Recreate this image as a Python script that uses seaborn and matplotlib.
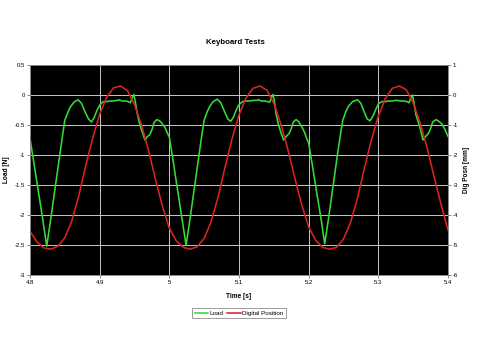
import matplotlib
matplotlib.use("Agg")
import matplotlib.pyplot as plt
import seaborn as sns

# Data
time_load = [
    4.800, 4.806, 4.812, 4.818, 4.824, 4.830, 4.836, 4.842, 4.847, 4.850,
    4.854, 4.858, 4.863, 4.869, 4.874, 4.879, 4.884, 4.888, 4.892, 4.896,
    4.900, 4.905, 4.910, 4.915, 4.920, 4.925, 4.928, 4.932, 4.937, 4.941,
    4.944, 4.947, 4.949, 4.951, 4.953, 4.956, 4.960, 4.965, 4.968, 4.972,
    4.975, 4.978, 4.982, 4.986, 4.990, 4.994, 4.997,
    5.000, 5.006, 5.012, 5.018, 5.024, 5.030, 5.036, 5.042, 5.047, 5.050,
    5.054, 5.058, 5.063, 5.069, 5.074, 5.079, 5.084, 5.088, 5.092, 5.096,
    5.100, 5.105, 5.110, 5.115, 5.120, 5.125, 5.128, 5.132, 5.137, 5.141,
    5.144, 5.147, 5.149, 5.151, 5.153, 5.156, 5.160, 5.164, 5.168, 5.172,
    5.175, 5.178, 5.182, 5.186, 5.190, 5.194, 5.197,
    5.200, 5.206, 5.212, 5.218, 5.223, 5.229, 5.235, 5.241, 5.246, 5.249,
    5.253, 5.257, 5.263, 5.270, 5.275, 5.280, 5.284, 5.288, 5.292, 5.296,
    5.300, 5.305, 5.310, 5.315, 5.320, 5.325, 5.328, 5.332, 5.337, 5.341,
    5.344, 5.347, 5.349, 5.351, 5.354, 5.357, 5.360, 5.364, 5.368, 5.372,
    5.375, 5.378, 5.383, 5.387, 5.391, 5.395, 5.400,
]
load = [
    -0.72, -1.16, -1.61, -2.05, -2.52, -2.05, -1.55, -1.06, -0.65, -0.42,
    -0.30, -0.20, -0.12, -0.08, -0.14, -0.28, -0.40, -0.45, -0.38, -0.26,
    -0.17, -0.11, -0.11, -0.10, -0.10, -0.09, -0.08, -0.10, -0.10, -0.11,
    -0.13, -0.04, 0.01, -0.10, -0.25, -0.42, -0.58, -0.75, -0.70, -0.66,
    -0.58, -0.46, -0.41, -0.43, -0.48, -0.55, -0.63,
    -0.70, -1.14, -1.60, -2.05, -2.50, -2.04, -1.55, -1.05, -0.64, -0.42,
    -0.29, -0.19, -0.11, -0.07, -0.13, -0.27, -0.40, -0.44, -0.37, -0.25,
    -0.16, -0.11, -0.10, -0.10, -0.09, -0.09, -0.08, -0.10, -0.10, -0.11,
    -0.12, -0.03, 0.01, -0.12, -0.30, -0.47, -0.62, -0.75, -0.69, -0.64,
    -0.56, -0.45, -0.41, -0.45, -0.53, -0.62, -0.72,
    -0.80, -1.22, -1.66, -2.08, -2.48, -2.02, -1.52, -1.02, -0.63, -0.42,
    -0.29, -0.19, -0.11, -0.08, -0.14, -0.29, -0.40, -0.43, -0.36, -0.25,
    -0.15, -0.11, -0.11, -0.10, -0.10, -0.09, -0.09, -0.10, -0.10, -0.11,
    -0.13, -0.04, 0.00, -0.12, -0.33, -0.44, -0.55, -0.75, -0.69, -0.64,
    -0.56, -0.45, -0.41, -0.44, -0.48, -0.56, -0.69,
]

time_pos = [
    4.80, 4.81, 4.82, 4.83, 4.84, 4.85, 4.86, 4.87, 4.88, 4.89,
    4.90, 4.91, 4.92, 4.93, 4.94, 4.95, 4.96, 4.97, 4.98, 4.99,
    5.00, 5.01, 5.02, 5.03, 5.04, 5.05, 5.06, 5.07, 5.08, 5.09,
    5.10, 5.11, 5.12, 5.13, 5.14, 5.15, 5.16, 5.17, 5.18, 5.19,
    5.20, 5.21, 5.22, 5.23, 5.24, 5.25, 5.26, 5.27, 5.28, 5.29,
    5.30, 5.31, 5.32, 5.33, 5.34, 5.35, 5.36, 5.37, 5.38, 5.39,
    5.40,
]
# digital position in mm (right axis)
position = [
    -4.54, -4.90, -5.10, -5.14, -5.04, -4.76, -4.20, -3.36, -2.36, -1.44,
    -0.64, -0.08, 0.24, 0.30, 0.14, -0.32, -1.00, -1.84, -2.80, -3.70,
    -4.44, -4.86, -5.08, -5.14, -5.06, -4.78, -4.22, -3.40, -2.40, -1.46,
    -0.66, -0.10, 0.22, 0.30, 0.16, -0.28, -0.96, -1.80, -2.76, -3.66,
    -4.40, -4.84, -5.08, -5.14, -5.08, -4.80, -4.26, -3.44, -2.44, -1.50,
    -0.70, -0.12, 0.22, 0.30, 0.18, -0.26, -0.94, -1.76, -2.72, -3.64,
    -4.50,
]

x_ticks = [4.8, 4.9, 5.0, 5.1, 5.2, 5.3, 5.4]
x_labels = ["4.8", "4.9", "5", "5.1", "5.2", "5.3", "5.4"]
load_ticks = [0.5, 0, -0.5, -1, -1.5, -2, -2.5, -3]
load_labels = ["0.5", "0", "-0.5", "-1", "-1.5", "-2", "-2.5", "-3"]
pos_ticks = [1, 0, -1, -2, -3, -4, -5, -6]
pos_labels = ["1", "0", "-1", "-2", "-3", "-4", "-5", "-6"]

GREEN = "#33dd33"
RED = "#dd2222"

plt.rcParams["font.family"] = ["Liberation Sans", "DejaVu Sans"]

fig = plt.figure(figsize=(4.8, 3.6), dpi=100)
ax = fig.add_axes([30 / 480, 85 / 360, 418 / 480, 210 / 360])
ax.set_facecolor("black")

sns.lineplot(x=time_load, y=load, ax=ax, color=GREEN, linewidth=1.15, label="Load")
ax.set_xlim(4.8, 5.4)
ax.set_ylim(-3, 0.5)
ax.set_xticks(x_ticks)
ax.set_xticklabels(x_labels)
ax.set_yticks(load_ticks)
ax.set_yticklabels(load_labels)
ax.grid(True, color="#c8c8c8", linewidth=0.7)
ax.set_axisbelow(True)
ax.tick_params(labelsize=4.3, length=2, width=0.5, pad=1.5, color="#606060")
for s in ax.spines.values():
    s.set_color("#808080")
    s.set_linewidth(0.5)

ax2 = ax.twinx()
sns.lineplot(x=time_pos, y=position, ax=ax2, color=RED, linewidth=1.15,
             label="Digital Position")
ax2.set_ylim(-6, 1)
ax2.set_yticks(pos_ticks)
ax2.set_yticklabels(pos_labels)
ax2.tick_params(labelsize=4.3, length=2, width=0.5, pad=1.5, color="#606060")
for s in ax2.spines.values():
    s.set_color("#808080")
    s.set_linewidth(0.5)

h1, l1 = ax.get_legend_handles_labels()
h2, l2 = ax2.get_legend_handles_labels()
ax.get_legend().remove()
ax2.get_legend().remove()

ax.set_xlabel("")
ax.set_ylabel("")
ax2.set_ylabel("")

fig.text(235.5 / 480, 1 - 42 / 360, "Keyboard Tests", ha="center", va="center",
         fontsize=5.7, fontweight="bold")
fig.text(238.5 / 480, 1 - 296 / 360, "Time [s]", ha="center", va="center",
         fontsize=4.7, fontweight="bold")
fig.text(7 / 480, 1 - 170 / 360, "Load [N]", ha="center", va="center",
         rotation=90, fontsize=4.7, fontweight="bold")
fig.text(466 / 480, 1 - 170 / 360, "Dig Posn [mm]", ha="center", va="center",
         rotation=90, fontsize=4.7, fontweight="bold")

leg = fig.legend(h1 + h2, l1 + l2, loc="center",
                 bbox_to_anchor=(239 / 480, 1 - 313 / 360), ncol=2,
                 fontsize=4.5, frameon=True, fancybox=False,
                 handlelength=2.2, handletextpad=0.2, columnspacing=0.6,
                 borderpad=0.35, borderaxespad=0)
leg.get_frame().set_edgecolor("#707070")
leg.get_frame().set_linewidth(0.6)

fig.savefig("out.png", dpi=100)
